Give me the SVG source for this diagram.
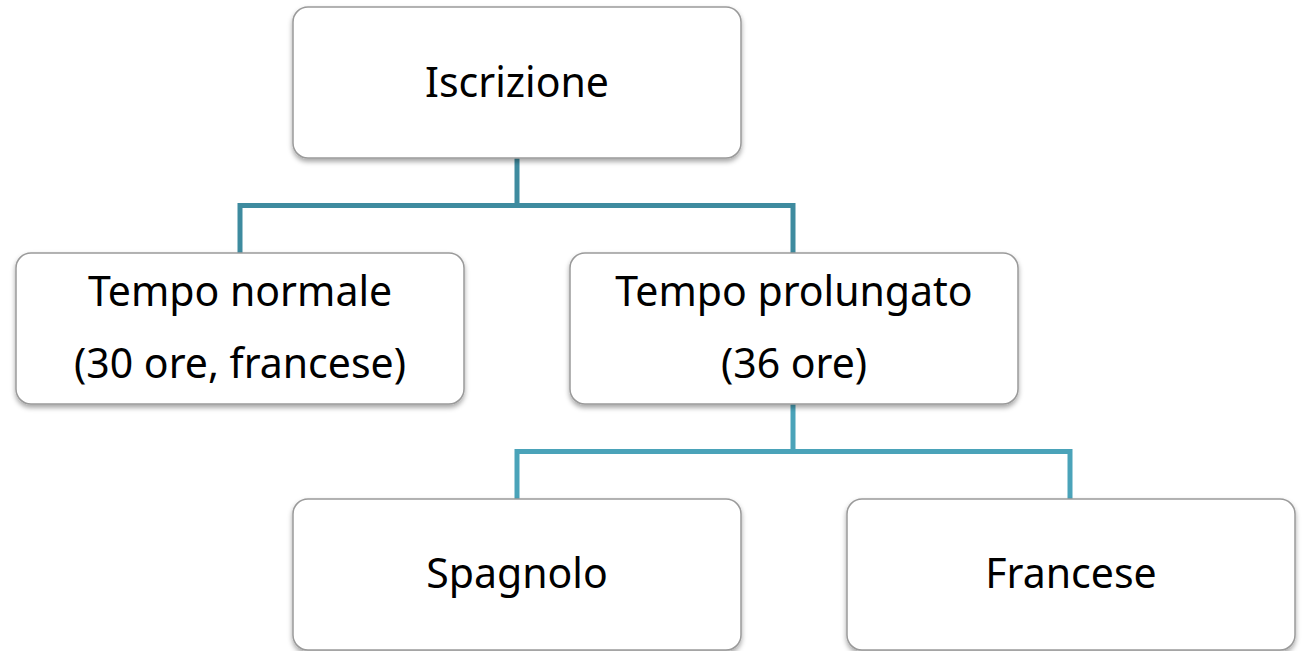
<svg xmlns="http://www.w3.org/2000/svg" width="1303" height="651" viewBox="0 0 1303 651">
<defs>
<filter id="sh" x="-10%" y="-10%" width="120%" height="130%">
<feDropShadow dx="0" dy="3" stdDeviation="2.5" flood-color="#000" flood-opacity="0.35"/>
</filter>
<style>
.box{fill:#fff;stroke:#9a9a9a;stroke-width:1.5;filter:url(#sh)}
.t{font-family:"Noto Sans","Open Sans",sans-serif;font-size:41px;fill:#000;text-anchor:middle}
.c1{fill:none;stroke:#3E8B9F;stroke-width:5}
.c2{fill:none;stroke:#4AA3B9;stroke-width:5}
</style>
</defs>
<rect width="1303" height="651" fill="#fff"/>
<g id="connectors">
<path class="c1" d="M517 158 V205.5 M240 253 V205.5 H793 V253"/>
<path class="c2" d="M793 404 V451.5 M517 499 V451.5 H1070 V499"/>
</g>
<g id="n-iscrizione">
<rect class="box" x="293" y="7" width="448" height="151" rx="15"/>
<text class="t" x="517" y="97">Iscrizione</text>
</g>
<g id="n-normale">
<rect class="box" x="16" y="253" width="448" height="151" rx="15"/>
<text class="t" x="240" y="306">Tempo normale</text>
<text class="t" x="240" y="378">(30 ore, francese)</text>
</g>
<g id="n-prolungato">
<rect class="box" x="570" y="253" width="448" height="151" rx="15"/>
<text class="t" x="794" y="306">Tempo prolungato</text>
<text class="t" x="794" y="378">(36 ore)</text>
</g>
<g id="n-spagnolo">
<rect class="box" x="293" y="499" width="448" height="151" rx="15"/>
<text class="t" x="517" y="588">Spagnolo</text>
</g>
<g id="n-francese">
<rect class="box" x="847" y="499" width="448" height="151" rx="15"/>
<text class="t" x="1071" y="588">Francese</text>
</g>
</svg>
